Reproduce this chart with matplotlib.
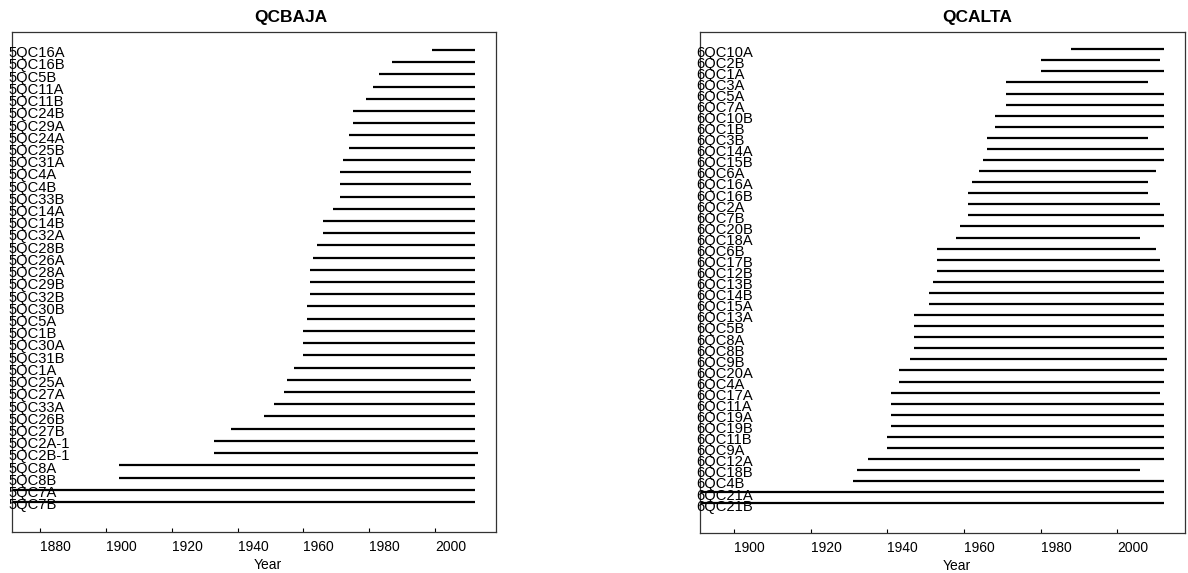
import matplotlib
matplotlib.use("Agg")
import matplotlib.pyplot as plt
import matplotlib.transforms as mtransforms

plt.rcParams['font.family'] = ['Liberation Sans', 'DejaVu Sans']

# QCBAJA series, listed top to bottom
labels_baja = ['5QC16A', '5QC16B', '5QC5B', '5QC11A', '5QC11B', '5QC24B', '5QC29A', '5QC24A',
               '5QC25B', '5QC31A', '5QC4A', '5QC4B', '5QC33B', '5QC14A', '5QC14B', '5QC32A',
               '5QC28B', '5QC26A', '5QC28A', '5QC29B', '5QC32B', '5QC30B', '5QC5A', '5QC1B',
               '5QC30A', '5QC31B', '5QC1A', '5QC25A', '5QC27A', '5QC33A', '5QC26B', '5QC27B',
               '5QC2A-1', '5QC2B-1', '5QC8A', '5QC8B', '5QC7A', '5QC7B']
start_baja = [1999, 1987, 1983, 1981, 1979, 1975, 1975, 1974, 1974, 1972, 1971, 1971, 1971,
              1969, 1966, 1966, 1964, 1963, 1962, 1962, 1962, 1961, 1961, 1960, 1960, 1960,
              1957, 1955, 1954, 1951, 1948, 1938, 1933, 1933, 1904, 1904, 1850, 1850]
end_baja = [2012, 2012, 2012, 2012, 2012, 2012, 2012, 2012, 2012, 2012, 2011, 2011, 2012,
            2012, 2012, 2012, 2012, 2012, 2012, 2012, 2012, 2012, 2012, 2012, 2012, 2012,
            2012, 2011, 2012, 2012, 2012, 2012, 2012, 2013, 2012, 2012, 2012, 2012]

# QCALTA series, listed top to bottom
labels_alta = ['6QC10A', '6QC2B', '6QC1A', '6QC3A', '6QC5A', '6QC7A', '6QC10B', '6QC1B',
               '6QC3B', '6QC14A', '6QC15B', '6QC6A', '6QC16A', '6QC16B', '6QC2A', '6QC7B',
               '6QC20B', '6QC18A', '6QC6B', '6QC17B', '6QC12B', '6QC13B', '6QC14B', '6QC15A',
               '6QC13A', '6QC5B', '6QC8A', '6QC8B', '6QC9B', '6QC20A', '6QC4A', '6QC17A',
               '6QC11A', '6QC19A', '6QC19B', '6QC11B', '6QC9A', '6QC12A', '6QC18B', '6QC4B',
               '6QC21A', '6QC21B']
start_alta = [1988, 1980, 1980, 1971, 1971, 1971, 1968, 1968, 1966, 1966, 1965, 1964, 1962,
              1961, 1961, 1961, 1959, 1958, 1953, 1953, 1953, 1952, 1951, 1951, 1947, 1947,
              1947, 1947, 1946, 1943, 1943, 1941, 1941, 1941, 1941, 1940, 1940, 1935, 1932,
              1931, 1880, 1880]
end_alta = [2012, 2011, 2012, 2008, 2012, 2012, 2012, 2012, 2008, 2012, 2012, 2010, 2008,
            2008, 2011, 2012, 2012, 2006, 2010, 2011, 2012, 2012, 2012, 2012, 2012, 2012,
            2012, 2012, 2013, 2012, 2012, 2011, 2012, 2012, 2012, 2012, 2012, 2012, 2006,
            2012, 2012, 2012]

ticks_baja = [1880, 1900, 1920, 1940, 1960, 1980, 2000]
ticks_alta = [1900, 1920, 1940, 1960, 1980, 2000]

fig = plt.figure(figsize=(11.88, 5.73), dpi=100)


def px(fig, ax, dx, dy):
    # shift in pixels (72 points per 100 px)
    return mtransforms.offset_copy(ax.transAxes, fig=fig, x=dx * 0.72, y=dy * 0.72, units='points')


def span_plot(ax, title, labels, starts, ends, ticks, xlim, ylim):
    n = len(labels)
    ypos = [n - 1 - i for i in range(n)]
    ax.hlines(ypos, starts, ends, colors='black', linewidth=1.6)
    ax.set_xlim(*xlim)
    ax.set_ylim(*ylim)
    ax.set_yticks([])
    ax.set_xticks(ticks)
    ax.tick_params(axis='x', direction='in', length=3, width=0.8, pad=6, labelsize=10)
    plt.setp(ax.get_xticklabels(), ha='left')
    for s in ax.spines.values():
        s.set_color('#333333')
        s.set_linewidth(0.9)

    # series names drawn inside the left edge
    blend = mtransforms.blended_transform_factory(ax.transAxes, ax.transData)
    for y, lab in zip(ypos, labels):
        tr = mtransforms.offset_copy(blend, fig=fig, x=-4 * 0.72, y=-7.3 * 0.72, units='points')
        ax.text(0, y, lab, transform=tr, ha='left', va='baseline', fontsize=10.6)

    ax.text(0.5, 1, title, transform=px(fig, ax, 0, 10.3), ha='left', va='baseline',
            fontsize=12.5, fontweight='bold')
    ax.text(0.5, 0, 'Year', transform=px(fig, ax, 0, -37), ha='left', va='baseline', fontsize=10)


ax1 = fig.add_axes([12 / 1188, 41 / 573, 484 / 1188, 500 / 573])
span_plot(ax1, 'QCBAJA', labels_baja, start_baja, end_baja, ticks_baja,
          (1871.5, 2018.5), (-2.46, 38.47))

ax2 = fig.add_axes([700 / 1188, 40 / 573, 485 / 1188, 501 / 573])
span_plot(ax2, 'QCALTA', labels_alta, start_alta, end_alta, ticks_alta,
          (1891.2, 2017.6), (-2.68, 42.56))

fig.savefig('out.png', dpi=100)
